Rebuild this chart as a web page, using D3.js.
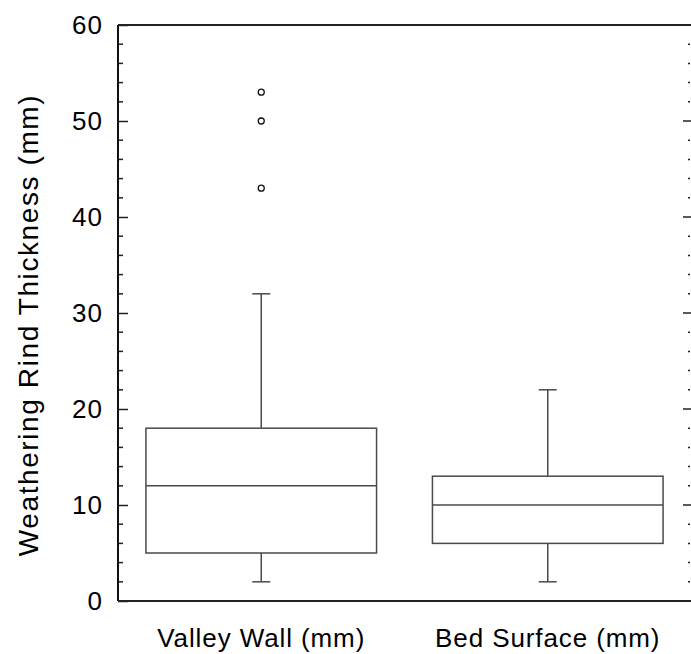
<!DOCTYPE html>
<html>
<head>
<meta charset="utf-8">
<script src="https://cdn.jsdelivr.net/npm/d3@7"></script>
<style>
	body { margin: 0; background: #fff; }
	text { font-family: "Liberation Sans", Arial, Helvetica, sans-serif; fill: #000; }
</style>
</head>
<body>
<div class="chart"></div>
<script>
// box plot summaries
var groups = ['Valley Wall (mm)', 'Bed Surface (mm)'];
var whiskerLow = [2, 2];
var q1 = [5, 6];
var median = [12, 10];
var q3 = [18, 13];
var whiskerHigh = [32, 22];
var outliers = [[43, 50, 53], []];
var yTicks = [0, 10, 20, 30, 40, 50, 60];

var width = 691;
var height = 654;
var margin = { left: 118, right: 0, top: 25, bottom: 53 };

var svg = d3.select('.chart').append('svg')
	.attr('width', width)
	.attr('height', height);

var x = d3.scaleBand()
	.domain(groups)
	.range([margin.left, width - margin.right])
	.padding(0);

var y = d3.scaleLinear()
	.domain([0, 60])
	.range([height - margin.bottom, margin.top]);

var boxW = x.bandwidth() * 0.805;
var capW = 18;
var boxColor = '#4a4a4a';

// left axis, ticks point inward
var left = svg.append('g')
	.attr('transform', 'translate(' + margin.left + ',0)')
	.call(d3.axisRight(y).tickValues(yTicks).tickSize(10).tickFormat(''));
left.select('.domain').remove();
left.selectAll('line').attr('stroke', '#222').attr('stroke-width', 1.5);
var minor = d3.range(0, 61, 2).filter(function(v) { return v % 10 !== 0; });
left.selectAll('.minor').data(minor).enter().append('line')
	.attr('x1', 0).attr('x2', 5)
	.attr('y1', function(d) { return y(d); })
	.attr('y2', function(d) { return y(d); })
	.attr('stroke', '#222').attr('stroke-width', 1.5);

// tick labels
svg.append('g').selectAll('text').data(yTicks).enter().append('text')
	.attr('x', 103)
	.attr('y', function(d) { return y(d); })
	.attr('dy', '0.36em')
	.attr('text-anchor', 'end')
	.attr('font-size', 26)
	.attr('letter-spacing', 1)
	.text(function(d) { return d; });

// axis lines
svg.append('line')
	.attr('x1', margin.left).attr('x2', margin.left)
	.attr('y1', y(60)).attr('y2', y(0))
	.attr('stroke', '#111').attr('stroke-width', 2);
svg.append('line')
	.attr('x1', margin.left).attr('x2', width)
	.attr('y1', y(60)).attr('y2', y(60))
	.attr('stroke', '#222').attr('stroke-width', 2);
svg.append('line')
	.attr('x1', margin.left).attr('x2', width)
	.attr('y1', y(0)).attr('y2', y(0))
	.attr('stroke', '#222').attr('stroke-width', 2);

// right side ticks (no line)
var right = svg.append('g');
right.selectAll('.maj').data(yTicks.slice(1, -1)).enter().append('line')
	.attr('x1', width - 8).attr('x2', width)
	.attr('y1', function(d) { return y(d); })
	.attr('y2', function(d) { return y(d); })
	.attr('stroke', '#222').attr('stroke-width', 1.5);
right.selectAll('.min').data(minor).enter().append('line')
	.attr('x1', width - 3).attr('x2', width - 1)
	.attr('y1', function(d) { return y(d); })
	.attr('y2', function(d) { return y(d); })
	.attr('stroke', '#222').attr('stroke-width', 1.5);

// boxes
var box = svg.append('g').selectAll('g').data(groups).enter().append('g')
	.attr('transform', function(d) { return 'translate(' + (x(d) + x.bandwidth() / 2) + ',0)'; });

box.append('line')
	.attr('y1', function(d, i) { return y(whiskerLow[i]); })
	.attr('y2', function(d, i) { return y(q1[i]); })
	.attr('stroke', boxColor).attr('stroke-width', 1.5);
box.append('line')
	.attr('y1', function(d, i) { return y(q3[i]); })
	.attr('y2', function(d, i) { return y(whiskerHigh[i]); })
	.attr('stroke', boxColor).attr('stroke-width', 1.5);
box.append('line')
	.attr('x1', -capW / 2).attr('x2', capW / 2)
	.attr('y1', function(d, i) { return y(whiskerLow[i]); })
	.attr('y2', function(d, i) { return y(whiskerLow[i]); })
	.attr('stroke', boxColor).attr('stroke-width', 1.5);
box.append('line')
	.attr('x1', -capW / 2).attr('x2', capW / 2)
	.attr('y1', function(d, i) { return y(whiskerHigh[i]); })
	.attr('y2', function(d, i) { return y(whiskerHigh[i]); })
	.attr('stroke', boxColor).attr('stroke-width', 1.5);
box.append('rect')
	.attr('x', -boxW / 2).attr('width', boxW)
	.attr('y', function(d, i) { return y(q3[i]); })
	.attr('height', function(d, i) { return y(q1[i]) - y(q3[i]); })
	.attr('fill', 'none').attr('stroke', boxColor).attr('stroke-width', 1.5);
box.append('line')
	.attr('x1', -boxW / 2).attr('x2', boxW / 2)
	.attr('y1', function(d, i) { return y(median[i]); })
	.attr('y2', function(d, i) { return y(median[i]); })
	.attr('stroke', boxColor).attr('stroke-width', 1.5);
box.selectAll('circle').data(function(d, i) { return outliers[i]; }).enter().append('circle')
	.attr('cy', function(d) { return y(d); })
	.attr('r', 3)
	.attr('fill', 'none').attr('stroke', '#111').attr('stroke-width', 1.3);

// category labels
svg.append('g').selectAll('text').data(groups).enter().append('text')
	.attr('x', function(d) { return x(d) + x.bandwidth() / 2; })
	.attr('y', 647)
	.attr('text-anchor', 'middle')
	.attr('font-size', 26)
	.attr('letter-spacing', 0.9)
	.text(function(d) { return d; });

// y label
svg.append('text')
	.attr('transform', 'translate(38,325) rotate(-90)')
	.attr('text-anchor', 'middle')
	.attr('font-size', 28)
	.attr('letter-spacing', 1.6)
	.text('Weathering Rind Thickness (mm)');
</script>
</body>
</html>
